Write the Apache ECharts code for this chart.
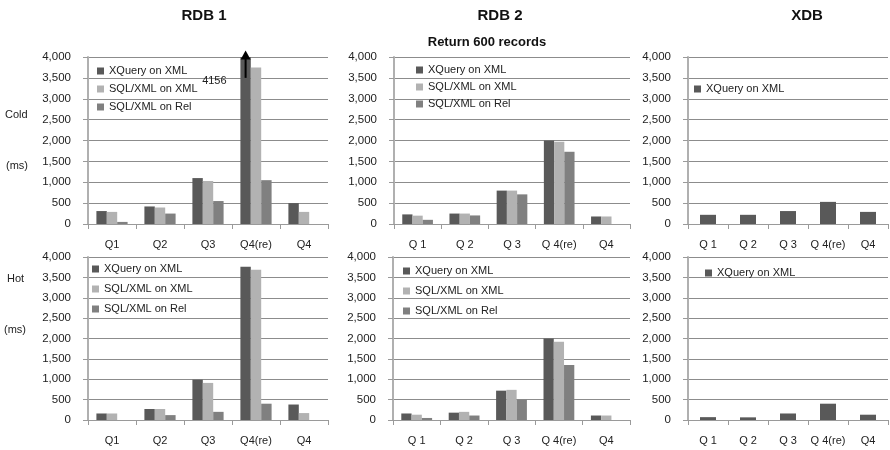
<!DOCTYPE html>
<html>
<head>
<meta charset="utf-8">
<script src="https://cdn.jsdelivr.net/npm/echarts@6/dist/echarts.min.js"></script>
<style>
  html, body { margin: 0; padding: 0; background: #fff; }
  #chart { width: 890px; height: 450px; }
</style>
</head>
<body>
<div id="chart"></div>
<script>
// ---- data -------------------------------------------------------------
const seriesNames = ['XQuery on XML', 'SQL/XML on XML', 'SQL/XML on Rel'];
const queriesRdb1 = ['Q1', 'Q2', 'Q3', 'Q4(re)', 'Q4'];
const queriesSpaced = ['Q 1', 'Q 2', 'Q 3', 'Q 4(re)', 'Q4'];
const yTickLabels = ['0', '500', '1,000', '1,500', '2,000', '2,500', '3,000', '3,500', '4,000'];

// Cold runs (ms)
const rdb1ColdXQuery = [310, 420, 1100, 4156, 500];
const rdb1ColdSqlXml = [290, 395, 1030, 3750, 290];
const rdb1ColdSqlRel = [50, 250, 550, 1050, null];
const rdb2ColdXQuery = [230, 250, 800, 2000, 180];
const rdb2ColdSqlXml = [200, 250, 800, 1970, 180];
const rdb2ColdSqlRel = [100, 205, 710, 1730, null];
const xdbColdXQuery = [220, 220, 310, 530, 290];

// Hot runs (ms)
const rdb1HotXQuery = [160, 270, 990, 3760, 380];
const rdb1HotSqlXml = [160, 270, 910, 3690, 170];
const rdb1HotSqlRel = [null, 120, 200, 400, null];
const rdb2HotXQuery = [160, 180, 720, 2000, 110];
const rdb2HotSqlXml = [130, 200, 740, 1920, 110];
const rdb2HotSqlRel = [50, 110, 500, 1350, null];
const xdbHotXQuery = [70, 65, 160, 400, 130];

// start of the overflow arrow on the clipped RDB 1 / Q4(re) bar
const arrowBase = 3500;

// ---- styling ----------------------------------------------------------
const FONT = 'Liberation Sans, Arial, sans-serif';
const TEXT = '#222';
const barColors = ['#595959', '#b2b2b2', '#808080'];
const yMax = 4000, yStep = 500;

const panels = [
  { grid: { left: 88,  top: 57,  width: 240, height: 167 }, cats: queriesRdb1,   data: [rdb1ColdXQuery, rdb1ColdSqlXml, rdb1ColdSqlRel], gap: '35%', legend: { left: 97,  top: 65,  itemGap: 6 } },
  { grid: { left: 394, top: 57,  width: 236, height: 167 }, cats: queriesSpaced, data: [rdb2ColdXQuery, rdb2ColdSqlXml, rdb2ColdSqlRel], gap: '35%', legend: { left: 416, top: 64,  itemGap: 5 } },
  { grid: { left: 688, top: 57,  width: 200, height: 167 }, cats: queriesSpaced, data: [xdbColdXQuery], gap: '60%', legend: { left: 694, top: 83, itemGap: 6 } },
  { grid: { left: 88,  top: 257, width: 240, height: 163 }, cats: queriesRdb1,   data: [rdb1HotXQuery, rdb1HotSqlXml, rdb1HotSqlRel], gap: '35%', legend: { left: 92,  top: 263, itemGap: 8 } },
  { grid: { left: 393, top: 257, width: 237, height: 163 }, cats: queriesSpaced, data: [rdb2HotXQuery, rdb2HotSqlXml, rdb2HotSqlRel], gap: '35%', legend: { left: 403, top: 265, itemGap: 8 } },
  { grid: { left: 688, top: 257, width: 200, height: 163 }, cats: queriesSpaced, data: [xdbHotXQuery], gap: '60%', legend: { left: 705, top: 267, itemGap: 6 } }
];

const grids = [], xAxes = [], yAxes = [], series = [], legends = [];

panels.forEach((p, i) => {
  grids.push(Object.assign({ containLabel: false }, p.grid));
  xAxes.push({
    type: 'category', gridIndex: i, data: p.cats,
    axisLine: { lineStyle: { color: '#9a9a9a', width: 1 } },
    axisTick: { show: true, length: 5, lineStyle: { color: '#9a9a9a' } },
    axisLabel: { color: TEXT, fontFamily: FONT, fontSize: 11, margin: 15, interval: 0, hideOverlap: false }
  });
  yAxes.push({
    type: 'value', gridIndex: i, min: 0, max: yMax, interval: yStep,
    axisLine: { show: true, lineStyle: { color: '#b0b0b0', width: 2 } },
    axisTick: { show: true, length: 5, lineStyle: { color: '#9a9a9a' } },
    axisLabel: { color: TEXT, fontFamily: FONT, fontSize: 11.5, margin: 17,
                 formatter: v => yTickLabels[Math.round(v / yStep)] },
    splitLine: { show: true, lineStyle: { color: '#8c8c8c', width: 1 } }
  });
  p.data.forEach((vals, k) => {
    series.push({
      type: 'bar', name: seriesNames[k], xAxisIndex: i, yAxisIndex: i,
      data: vals, barGap: '0%', barCategoryGap: p.gap,
      itemStyle: { color: barColors[k] }, silent: true, clip: true
    });
  });
  legends.push({
    orient: 'vertical', left: p.legend.left, top: p.legend.top,
    itemGap: p.legend.itemGap, itemWidth: 7, itemHeight: 7, icon: 'rect',
    padding: 0, selectedMode: false,
    data: seriesNames.slice(0, p.data.length),
    textStyle: { color: TEXT, fontFamily: FONT, fontSize: 11, lineHeight: 12 }
  });
});

// overflow arrow + value for the clipped XQuery bar (RDB 1, cold, Q4(re))
const arrowGap = 0.35;
series.push({
  type: 'custom', xAxisIndex: 0, yAxisIndex: 0, silent: true, z: 10,
  data: [[3, rdb1ColdXQuery[3]]],
  renderItem(params, api) {
    const cat = api.value(0), val = api.value(1);
    const band = api.size([1, 0])[0];
    const barW = band * (1 - arrowGap) / 3;
    const x = api.coord([cat, 0])[0] - barW;
    const tipY = api.coord([cat, val])[1];
    const baseY = api.coord([cat, arrowBase])[1];
    const topY = api.coord([cat, yMax])[1];
    return {
      type: 'group',
      children: [
        { type: 'line', shape: { x1: x, y1: baseY, x2: x, y2: tipY + 6 },
          style: { stroke: '#000', lineWidth: 2 } },
        { type: 'polygon', shape: { points: [[x, tipY], [x - 5, tipY + 9], [x + 5, tipY + 9]] },
          style: { fill: '#000' } },
        { type: 'text', x: x - 19, y: topY + 24,
          style: { text: String(val), fill: TEXT, font: '11px ' + FONT, align: 'right', verticalAlign: 'middle' } }
      ]
    };
  }
});

const titleStyle = { color: '#111', fontFamily: FONT, fontSize: 15, fontWeight: 'bold' };
const option = {
  backgroundColor: '#fff',
  animation: false,
  title: [
    { text: 'RDB 1', left: 199, top: 3, textAlign: 'center', textStyle: titleStyle },
    { text: 'RDB 2', left: 495, top: 3, textAlign: 'center', textStyle: titleStyle },
    { text: 'XDB', left: 802, top: 3, textAlign: 'center', textStyle: titleStyle },
    { text: 'Return 600 records', left: 482, top: 31, textAlign: 'center',
      textStyle: { color: '#111', fontFamily: FONT, fontSize: 13, fontWeight: 'bold' } }
  ],
  graphic: [
    { type: 'text', left: 5, top: 109, style: { text: 'Cold', fill: TEXT, font: '11px ' + FONT } },
    { type: 'text', left: 6, top: 160, style: { text: '(ms)', fill: TEXT, font: '11px ' + FONT } },
    { type: 'text', left: 7, top: 273, style: { text: 'Hot', fill: TEXT, font: '11px ' + FONT } },
    { type: 'text', left: 4, top: 324, style: { text: '(ms)', fill: TEXT, font: '11px ' + FONT } }
  ],
  legend: legends,
  grid: grids,
  xAxis: xAxes,
  yAxis: yAxes,
  series: series
};

const chart = echarts.init(document.getElementById('chart'), null, { renderer: 'canvas' });
chart.setOption(option);
</script>
</body>
</html>
